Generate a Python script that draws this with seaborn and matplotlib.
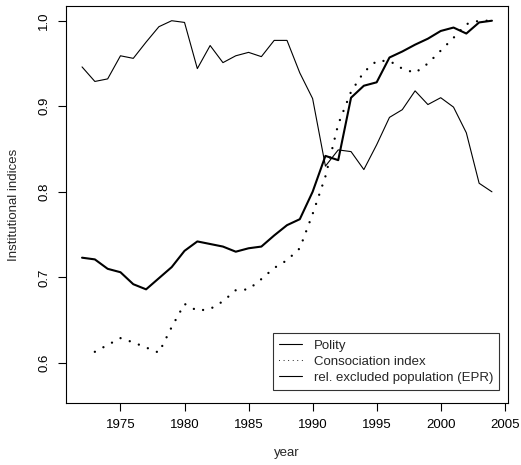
import matplotlib
matplotlib.use("Agg")
import matplotlib.pyplot as plt
import seaborn as sns
import pandas as pd
import numpy as np

years = list(range(1972, 2005))

polity = [0.723, 0.721, 0.710, 0.706, 0.692, 0.686, 0.699, 0.712, 0.731, 0.742,
          0.739, 0.736, 0.730, 0.734, 0.736, 0.749, 0.761, 0.768, 0.800, 0.842,
          0.837, 0.910, 0.924, 0.928, 0.957, 0.964, 0.972, 0.979, 0.988, 0.992,
          0.985, 0.998, 1.000]

# consociation index starts in 1973
conso_years = list(range(1973, 2005))
conso = [0.613, 0.621, 0.629, 0.624, 0.618, 0.612, 0.642, 0.669, 0.661, 0.663,
         0.672, 0.685, 0.686, 0.698, 0.711, 0.720, 0.734, 0.774, 0.818, 0.879,
         0.917, 0.940, 0.953, 0.953, 0.944, 0.939, 0.950, 0.965, 0.980, 0.996,
         1.000, 1.000]

epr = [0.946, 0.929, 0.932, 0.959, 0.956, 0.975, 0.993, 1.000, 0.998, 0.944,
       0.971, 0.951, 0.959, 0.963, 0.958, 0.977, 0.977, 0.939, 0.909, 0.830,
       0.849, 0.847, 0.826, 0.855, 0.887, 0.896, 0.918, 0.902, 0.910, 0.899,
       0.869, 0.810, 0.800]

labels = ["Polity", "Consociation index", "rel. excluded population (EPR)"]

sns.set_style("ticks")
plt.rcParams['font.family'] = ['Liberation Sans', 'DejaVu Sans']
fs = 9.5

fig = plt.figure(figsize=(5.21, 4.65), dpi=100)
ax = fig.add_axes([0.126, 0.1327, 0.8497, 0.8544])

df_pol = pd.DataFrame({"year": years, "value": polity})
df_con = pd.DataFrame({"year": conso_years, "value": conso})
df_epr = pd.DataFrame({"year": years, "value": epr})

sns.lineplot(data=df_pol, x="year", y="value", ax=ax, color="black", lw=1.5,
             label=labels[0])
sns.lineplot(data=df_con, x="year", y="value", ax=ax, color="black", lw=1.7,
             linestyle=(0, (0.01, 4.1)), dash_capstyle="round", label=labels[1])
sns.lineplot(data=df_epr, x="year", y="value", ax=ax, color="black", lw=0.8,
             label=labels[2])

ax.set_xlim(1970.72, 2005.28)
ax.set_ylim(0.5528, 1.0172)
ax.set_xticks([1975, 1980, 1985, 1990, 1995, 2000, 2005])
ax.set_yticks([0.6, 0.7, 0.8, 0.9, 1.0])
ax.set_yticklabels(["0.6", "0.7", "0.8", "0.9", "1.0"], rotation=90, va="center")
ax.tick_params(direction="out", length=6, width=0.8, pad=5, labelsize=fs, colors="black")
for s in ax.spines.values():
    s.set_visible(True)
    s.set_linewidth(0.8)
    s.set_color("black")

ax.set_xlabel("year", fontsize=fs, labelpad=12)
ax.set_ylabel("Institutional indices", fontsize=fs, labelpad=13)

leg = ax.legend(loc="lower right", bbox_to_anchor=(0.979, 0.0335), borderaxespad=0,
                fontsize=fs, frameon=True, fancybox=False, handlelength=1.75,
                handletextpad=0.9, labelspacing=0.3, borderpad=0.45)
leg.get_frame().set_edgecolor("black")
leg.get_frame().set_linewidth(0.8)
# legend handles drawn thin like in the original
for h in leg.get_lines():
    h.set_linewidth(0.8)

fig.savefig("out.png", dpi=100)
